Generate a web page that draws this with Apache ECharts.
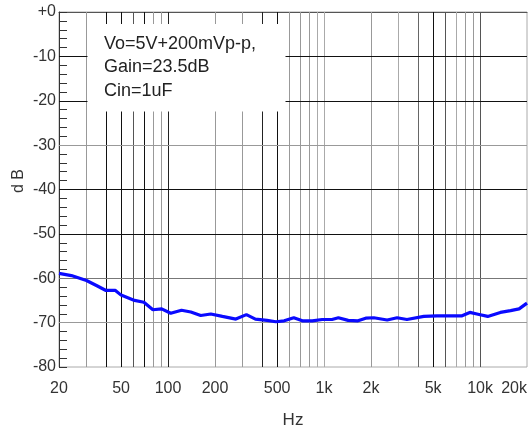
<!DOCTYPE html>
<html>
<head>
<meta charset="utf-8">
<script src="https://cdn.jsdelivr.net/npm/echarts@6/dist/echarts.min.js"></script>
<style>
  html, body { margin: 0; padding: 0; background: #fff; }
  #chart { width: 530px; height: 434px; }
</style>
</head>
<body>
<div id="chart"></div>
<script>
// Noise response, frequency in Hz vs level in dB
const freqHz = [20, 24, 30, 35, 40, 46, 50, 61, 70, 80, 91, 104, 122, 140, 162, 188,
  223, 272, 318, 363, 431, 491, 555, 640, 726, 841, 972, 1124, 1236, 1428, 1650,
  1850, 2085, 2540, 2940, 3400, 4360, 5300, 6420, 7600, 8600, 9700, 11200, 13500,
  15700, 17800, 20000];
const levelDb = [-58.9, -59.4, -60.5, -61.7, -62.75, -62.75, -63.8, -65, -65.4, -67.1,
  -66.9, -67.9, -67.2, -67.6, -68.4, -68.05, -68.6, -69.2, -68.2, -69.2, -69.5, -69.8,
  -69.6, -68.9, -69.6, -69.6, -69.3, -69.3, -68.9, -69.5, -69.6, -69.0, -68.9, -69.4,
  -68.9, -69.3, -68.6, -68.5, -68.5, -68.5, -67.7, -68.1, -68.6, -67.7, -67.3, -66.9,
  -65.6];

// Axis ticks
const freqTickLabels = [20, 50, 100, 200, 500, 1000, 2000, 5000, 10000, 20000];
const freqGridLines = [30, 40, 50, 60, 70, 80, 90, 100, 200, 300, 400, 500, 600, 700,
  800, 900, 1000, 2000, 3000, 4000, 5000, 6000, 7000, 8000, 9000, 10000];
const dbGridLines = [-10, -20, -30, -40, -50, -60, -70];

// Shade of each grid line (same order as the lists above)
const freqGridShade = ['#999', '#111', '#111', '#555', '#111', '#999', '#999', '#222',
  '#999', '#999', '#222', '#111', '#999', '#999', '#999', '#aaa', '#aaa', '#999', '#aaa',
  '#666', '#111', '#555', '#aaa', '#999', '#999', '#555'];
const dbGridShade = ['#111', '#111', '#999', '#111', '#111', '#777', '#999'];

const noteLines = ['Vo=5V+200mVp-p,', 'Gain=23.5dB', 'Cin=1uF'];

const FONT = 'Liberation Sans, Arial, sans-serif';

const chart = echarts.init(document.getElementById('chart'), null, { renderer: 'canvas' });

const gridMarks = []
  .concat(freqGridLines.map((f, i) => ({
    xAxis: f, lineStyle: { color: freqGridShade[i], width: 1, type: 'solid' }
  })))
  .concat(dbGridLines.map((d, i) => ({
    yAxis: d, lineStyle: { color: dbGridShade[i], width: 1, type: 'solid' }
  })));

const fmtFreq = v => (v >= 1000 ? (v / 1000) + 'k' : String(v));

chart.setOption({
  animation: false,
  backgroundColor: '#fff',
  grid: {
    left: 59, top: 12, right: 2, bottom: 64,
    show: true, borderColor: '#aaa', borderWidth: 1, backgroundColor: 'transparent'
  },
  xAxis: {
    type: 'log',
    logBase: 10,
    min: 20,
    max: 20000,
    name: 'Hz',
    nameLocation: 'middle',
    nameGap: 45,
    nameTextStyle: { fontFamily: FONT, fontSize: 17, color: '#333' },
    axisLine: { show: true, lineStyle: { color: '#555', width: 1 } },
    axisTick: { show: false },
    splitLine: { show: false },
    minorTick: { show: false },
    axisLabel: {
      customValues: freqTickLabels,
      formatter: fmtFreq,
      fontFamily: FONT, fontSize: 16, color: '#333',
      margin: 14,
      alignMaxLabel: 'right'
    }
  },
  yAxis: {
    type: 'value',
    min: -80,
    max: 0,
    interval: 10,
    axisLine: { show: true, lineStyle: { color: '#333', width: 1 } },
    axisTick: { show: true, inside: true, length: 8, lineStyle: { color: '#333', width: 1 } },
    minorTick: { show: true, splitNumber: 5, length: 8, lineStyle: { color: '#333', width: 1 } },
    splitLine: { show: false },
    axisLabel: {
      formatter: v => (v === 0 ? '+0' : String(v)),
      fontFamily: FONT, fontSize: 16, color: '#333',
      margin: 3
    }
  },
  graphic: [
    {
      type: 'rect', z: 10,
      shape: { x: 87.5, y: 24, width: 198, height: 87.5 },
      style: { fill: '#fff' }
    },
    {
      type: 'text', z: 11, x: 19, y: 181, rotation: Math.PI / 2,
      style: { text: 'd B', font: '16px ' + FONT, fill: '#333', align: 'center', verticalAlign: 'middle' }
    }
  ].concat(noteLines.map((t, i) => ({
    type: 'text', z: 11, x: 104, y: 44 + i * 23.4,
    style: { text: t, font: '18px ' + FONT, fill: '#222', align: 'left', verticalAlign: 'middle' }
  }))),
  series: [
    {
      type: 'line',
      data: freqHz.map((f, i) => [f, levelDb[i]]),
      symbol: 'none',
      smooth: false,
      z: 3,
      lineStyle: { color: '#0a0aff', width: 3.2 },
      markLine: {
        silent: true,
        symbol: ['none', 'none'],
        label: { show: false },
        animation: false,
        z: 1,
        data: gridMarks
      }
    }
  ]
});
</script>
</body>
</html>
